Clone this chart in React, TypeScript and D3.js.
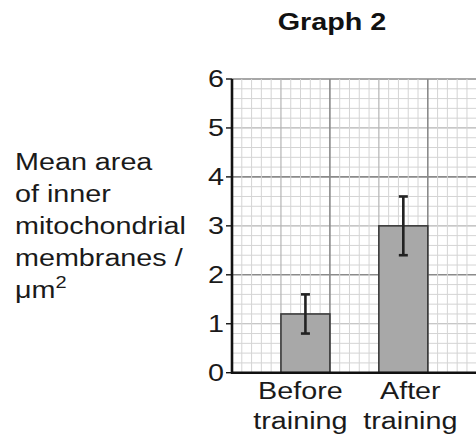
import React from 'react';
import * as d3 from 'd3';

const width = 476;
const height = 444;
const margin = {top: 79, right: 0, bottom: 71, left: 232};

const title = 'Graph 2';
const yTicks = [0, 1, 2, 3, 4, 5, 6];
const categories = ['Before training', 'After training'];
const categoryLines = [['Before', 'training'], ['After', 'training']];
const means = [1.2, 3.0];
const errLow = [0.8, 2.4];
const errHigh = [1.6, 3.6];
const yLabelLines = ['Mean area', 'of inner', 'mitochondrial', 'membranes /'];
const yLabelUnit = 'μm';
const yLabelSup = '2';

const font = '"Liberation Sans", Arial, sans-serif';
const stretch = 1.25;
const ink = '#1a1a1a';

const yScale = d3.scaleLinear().domain([0, 6]).range([height - margin.bottom - 0.3, margin.top]);
const unit = (yScale(0) - yScale(1));
// graph paper columns, same square size as the y units
const gridX = d3.scaleLinear().domain([0, 5]).range([margin.left, margin.left + 5 * unit]);
const xScale = d3.scaleBand().domain(categories).range([gridX(0.5), gridX(4.5)]).paddingInner(0.5).paddingOuter(0.25);

const lineStyle = (i: number) =>
  i % 10 === 0 ? {stroke: '#8a8a8a', strokeWidth: 1.6}
  : i % 5 === 0 ? {stroke: '#b4b4b4', strokeWidth: 1.2}
  : {stroke: '#d4d4d4', strokeWidth: 1};

const App = () => {
  const hLines = d3.range(0, 31);
  const vLines = d3.range(0, 26);
  const x0 = gridX(0);
  const y0 = yScale(0);
  return (
    <svg width={width} height={height} style={{position: 'absolute', left: 0, top: 0, background: '#fff'}}>
      <text transform={`translate(332,30) scale(${stretch},1)`} textAnchor="middle" fontFamily={font} fontWeight="bold" fontSize={23} fill="#111">{title}</text>

      <g>
        {hLines.map(i => (
          <line key={'h' + i} x1={x0} x2={gridX(5)} y1={yScale(i * 0.2)} y2={yScale(i * 0.2)} {...lineStyle(i)} />
        ))}
        {vLines.map(i => (
          <line key={'v' + i} x1={gridX(i * 0.2)} x2={gridX(i * 0.2)} y1={yScale(6)} y2={y0} {...lineStyle(i)} />
        ))}
      </g>

      {categories.map((c, i) => (
        <rect key={c} x={xScale(c)} y={yScale(means[i])} width={xScale.bandwidth()} height={y0 - yScale(means[i])}
          fill="#a8a8a8" stroke="#3a3a3a" strokeWidth={1.6} />
      ))}

      {categories.map((c, i) => {
        const cx = (xScale(c) as number) + xScale.bandwidth() / 2;
        return (
          <g key={'e' + c} stroke="#222" strokeWidth={2.6}>
            <line x1={cx} x2={cx} y1={yScale(errLow[i])} y2={yScale(errHigh[i])} />
            <line x1={cx - 4.5} x2={cx + 4.5} y1={yScale(errLow[i])} y2={yScale(errLow[i])} />
            <line x1={cx - 4.5} x2={cx + 4.5} y1={yScale(errHigh[i])} y2={yScale(errHigh[i])} />
          </g>
        );
      })}

      <line x1={x0} x2={x0} y1={yScale(6)} y2={y0 + 1} stroke="#111" strokeWidth={2.6} />
      <line x1={x0 - 1} x2={width} y1={y0} y2={y0} stroke="#111" strokeWidth={2.6} />

      {yTicks.map(t => (
        <g key={'t' + t}>
          <line x1={x0 - 6} x2={x0} y1={yScale(t)} y2={yScale(t)} stroke="#111" strokeWidth={1.4} />
          <text transform={`translate(${x0 - 8},${yScale(t) + 8}) scale(${stretch},1)`} textAnchor="end"
            fontFamily={font} fontSize={23} fill={ink}>{t}</text>
        </g>
      ))}

      {categories.map((c, i) => {
        const cx = (xScale(c) as number) + xScale.bandwidth() / 2 + (i === 0 ? -5 : 7);
        return categoryLines[i].map((ln, j) => (
          <text key={c + j} transform={`translate(${cx},${y0 + 26 + j * 30}) scale(${stretch},1)`} textAnchor="middle"
            fontFamily={font} fontSize={23} fill={ink}>{ln}</text>
        ));
      })}

      {yLabelLines.map((ln, j) => (
        <text key={'yl' + j} transform={`translate(15,${170 + j * 32}) scale(${stretch},1)`}
          fontFamily={font} fontSize={23} fill={ink}>{ln}</text>
      ))}
      <text transform={`translate(15,${170 + 4 * 32}) scale(${stretch},1)`} fontFamily={font} fontSize={23} fill={ink}>
        {yLabelUnit}<tspan fontSize={16} dy={-10}>{yLabelSup}</tspan>
      </text>
    </svg>
  );
};

export default App;
